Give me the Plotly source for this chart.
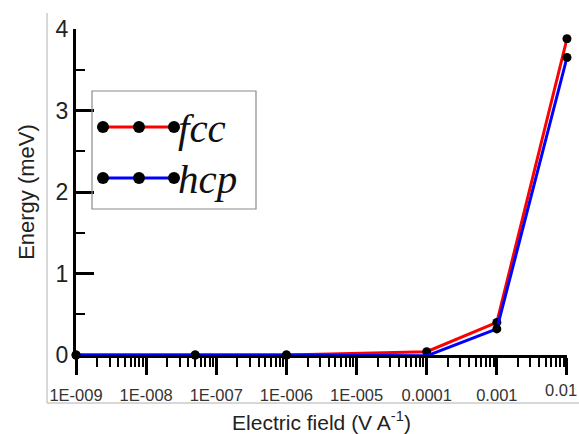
import plotly.graph_objects as go

# ---- data ----
field = [1e-9, 5e-8, 1e-6, 1e-4, 1e-3, 1e-2]
fcc = [0.0, 0.0, 0.0, 0.04, 0.40, 3.88]
hcp = [0.0, 0.0, 0.0, -0.01, 0.32, 3.65]
x_tickvals = [1e-9, 1e-8, 1e-7, 1e-6, 1e-5, 1e-4, 1e-3, 1e-2]
x_ticktext = ["1E-009", "1E-008", "1E-007", "1E-006", "1E-005", "0.0001", "0.001", "0.01"]
legend_names = ["fcc", "hcp"]
legend_colors = ["#ff0000", "#0000ff"]

W, H = 579, 434
L, R, T, B = 76, 12, 29, 79
pw, ph = W - L - R, H - T - B


def px(x):
    return (x - L) / pw


def py(y):
    return (H - B - y) / ph


fig = go.Figure()
fig.add_trace(go.Scatter(x=field, y=fcc, mode="lines+markers", name="fcc",
                         line=dict(color="#ff0000", width=3),
                         marker=dict(color="black", size=9), cliponaxis=False))
fig.add_trace(go.Scatter(x=field, y=hcp, mode="lines+markers", name="hcp",
                         line=dict(color="#0000ff", width=3),
                         marker=dict(color="black", size=9), cliponaxis=False))

shapes = []
# picture frame (left and bottom grey lines)
shapes.append(dict(type="line", xref="paper", yref="paper", x0=px(47), x1=px(47),
                   y0=py(13), y1=py(403), line=dict(color="#b0b0b0", width=1)))
shapes.append(dict(type="line", xref="paper", yref="paper", x0=px(47), x1=px(579),
                   y0=py(403), y1=py(403), line=dict(color="#b0b0b0", width=1)))
# legend box
shapes.append(dict(type="rect", xref="paper", yref="paper", x0=px(92), x1=px(256),
                   y0=py(209), y1=py(91), line=dict(color="#8a8a8a", width=1.2),
                   fillcolor="rgba(255,255,255,0)"))
annotations = []
for i, (name, col) in enumerate(zip(legend_names, legend_colors)):
    yy = [127, 178][i]
    shapes.append(dict(type="line", xref="paper", yref="paper", x0=px(103), x1=px(174),
                       y0=py(yy), y1=py(yy), line=dict(color=col, width=3)))
    for mx in (103, 139, 174):
        shapes.append(dict(type="circle", xref="paper", yref="paper",
                           xsizemode="pixel", ysizemode="pixel",
                           xanchor=px(mx), yanchor=py(yy),
                           x0=-6, x1=6, y0=-6, y1=6,
                           fillcolor="black", line=dict(color="black", width=0)))
    annotations.append(dict(xref="paper", yref="paper", x=px(176), y=py(yy + 1),
                            xanchor="left", yanchor="middle", showarrow=False,
                            text="<i>%s</i>" % name,
                            font=dict(family="Liberation Serif", size=41, color="#111")))

# last x tick label: right-aligned at the picture edge so it is not cut off
axis_ticktext = x_ticktext[:-1] + [""]
annotations.append(dict(xref="paper", yref="paper", x=1.0, y=py(390),
                        xanchor="right", yanchor="middle", xshift=R - 1, showarrow=False,
                        text=x_ticktext[-1], borderpad=0,
                        font=dict(family="Liberation Sans", size=16.5, color="#333")))

fig.update_layout(
    width=W, height=H,
    margin=dict(l=L, r=R, t=T, b=B, autoexpand=False),
    plot_bgcolor="white", paper_bgcolor="white",
    showlegend=False,
    shapes=shapes, annotations=annotations,
    font=dict(family="Liberation Sans", color="#222"),
)
fig.update_xaxes(
    type="log", range=[-9.0005, -1.9995],
    tickmode="array", tickvals=x_tickvals, ticktext=axis_ticktext,
    tickfont=dict(size=16.5, color="#333"),
    ticks="outside", ticklen=17, tickwidth=3, tickcolor="black",
    ticklabelstandoff=6,
    showline=True, linecolor="black", linewidth=3, showgrid=False, zeroline=False,
    minor=dict(ticks="outside", ticklen=9, tickwidth=2, tickcolor="black", dtick="D1", showgrid=False),
    title=dict(text="Electric field (V A<sup>-1</sup>)", font=dict(size=21, color="#222"), standoff=14),
    automargin=False,
)
fig.update_yaxes(
    range=[0, 4], dtick=1,
    tickfont=dict(size=23, color="#222"),
    ticks="inside", ticklen=18, tickwidth=3, tickcolor="black",
    showline=True, linecolor="black", linewidth=3, showgrid=False, zeroline=False,
    minor=dict(ticks="inside", ticklen=9, tickwidth=2, tickcolor="black", dtick=0.5, showgrid=False),
    title=dict(text="Energy (meV)", font=dict(size=22, color="#222"), standoff=15),
    automargin=False,
)

fig.write_html("out.html", config={"displayModeBar": False},
               post_script="document.body.style.margin='0';")
